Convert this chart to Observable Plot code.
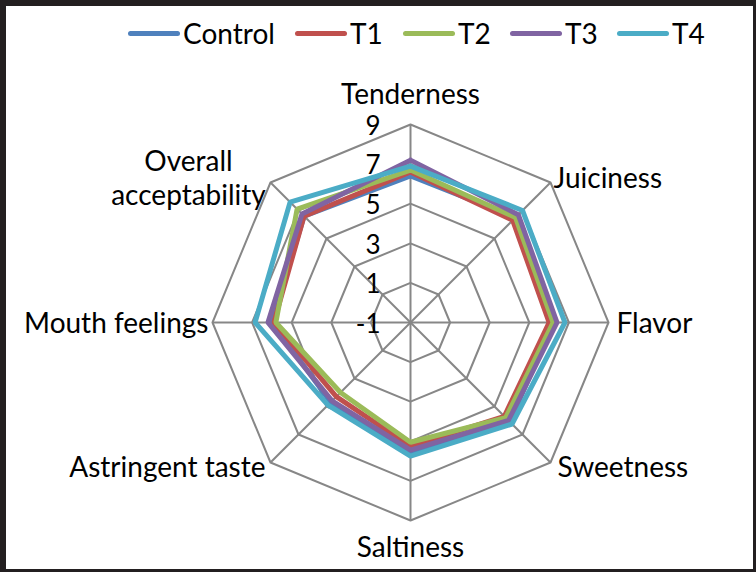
<!DOCTYPE html>
<html>
<head>
<meta charset="utf-8">
<script src="https://cdn.jsdelivr.net/npm/d3@7"></script>
<script src="https://cdn.jsdelivr.net/npm/@observablehq/plot@0.6"></script>
<style>
  html, body { margin: 0; padding: 0; background: #fff; }
  #frame {
    position: relative; width: 756px; height: 572px; box-sizing: border-box;
    border-style: solid; border-color: #231f20;
    border-width: 6px 3px 3px 6px; background: #fff; overflow: hidden;
    font-family: Lato, "Open Sans", sans-serif; color: #000;
  }
  #legend { position: absolute; left: 0; top: 0; width: 100%; height: 56px; }
  .item { position: absolute; top: 10px; display: flex; align-items: center; font-size: 28px; line-height: 34px; }
  .sw { width: 52px; height: 5px; border-radius: 3px; margin-right: 3px; }
  #chart { position: absolute; left: 0; top: 0; }
</style>
</head>
<body>
<div id="frame">
  <div id="chart"></div>
  <div id="legend"></div>
</div>
<script>
// ---- data ----
const categories = ["Tenderness", "Juiciness", "Flavor", "Sweetness", "Saltiness", "Astringent taste", "Mouth feelings", "Overall\nacceptability"];
const series = ["Control", "T1", "T2", "T3", "T4"];
const control = [6.4, 6.5, 6.2, 6.1, 5.6, 4.7, 6.0, 6.6];
const t1 =      [6.6, 6.3, 6.0, 5.7, 5.25, 4.3, 5.9, 6.6];
const t2 =      [6.7, 6.5, 6.2, 5.8, 5.05, 4.0, 5.8, 7.1];
const t3 =      [7.2, 6.7, 6.4, 6.0, 5.45, 4.6, 6.2, 6.75];
const t4 =      [6.9, 7.0, 6.8, 6.25, 5.75, 4.9, 6.85, 7.6];
const tickValues = [-1, 1, 3, 5, 7, 9];
const colors = ["#4f81bd", "#c0504d", "#9bbb59", "#8064a2", "#4bacc6"];

// ---- geometry helpers ----
const vMin = -1, vMax = 9;
const rad = v => (v - vMin) / (vMax - vMin);
const ang = i => (i * 2 * Math.PI) / categories.length;
const px = (v, i) => rad(v) * Math.sin(ang(i));
const py = (v, i) => rad(v) * Math.cos(ang(i));

const valuesBySeries = [control, t1, t2, t3, t4];
const lineData = [];
series.forEach((s, k) => {
  const vals = valuesBySeries[k];
  for (let i = 0; i <= categories.length; i++) {
    const j = i % categories.length;
    lineData.push({series: s, x: px(vals[j], j), y: py(vals[j], j)});
  }
});

const ringData = [];
tickValues.filter(v => v > vMin).forEach(v => {
  for (let i = 0; i <= categories.length; i++) {
    const j = i % categories.length;
    ringData.push({ring: v, x: px(v, j), y: py(v, j)});
  }
});
const spokes = categories.map((c, i) => ({x1: 0, y1: 0, x2: px(vMax, i), y2: py(vMax, i)}));

// label layout (offsets in px from the outer vertex)
const labelLayout = [
  {dx: 0, dy: -31, anchor: "middle"},
  {dx: 3, dy: -5, anchor: "start"},
  {dx: 8, dy: 0, anchor: "start"},
  {dx: 7, dy: 4, anchor: "start"},
  {dx: 0, dy: 26, anchor: "middle"},
  {dx: -5, dy: 4, anchor: "end"},
  {dx: -4, dy: 0, anchor: "end"},
  {dx: -82, dy: -5, anchor: "middle"}
];
const labelData = categories.map((c, i) => ({label: c, x: px(vMax, i), y: py(vMax, i), ...labelLayout[i]}));

const gridColor = "#878787";
const fontSize = 28;

const marks = [
  Plot.line(ringData, {x: "x", y: "y", z: "ring", stroke: gridColor, strokeWidth: 2}),
  Plot.link(spokes, {x1: "x1", y1: "y1", x2: "x2", y2: "y2", stroke: gridColor, strokeWidth: 2}),
  Plot.line(lineData, {x: "x", y: "y", z: "series", stroke: "series", strokeWidth: 5, strokeLinejoin: "miter"}),
  Plot.text(tickValues, {x: 0, y: v => rad(v), text: d => String(d), dx: -30, dy: 2, textAnchor: "end", fontSize: 26, fill: "#000"})
];
labelData.forEach(d => {
  marks.push(Plot.text([d], {x: "x", y: "y", text: "label", dx: d.dx, dy: d.dy, textAnchor: d.anchor, fontSize: fontSize, lineHeight: 1.22, fill: "#000"}));
});

const cx = 404, cy = 316, R = 198;
const chart = Plot.plot({
  width: 747,
  height: 563,
  margin: 0,
  style: {fontFamily: "Lato, 'Open Sans', sans-serif", background: "transparent"},
  x: {domain: [-1, 1], range: [cx - R, cx + R], axis: null},
  y: {domain: [-1, 1], range: [cy + R, cy - R], axis: null},
  color: {domain: series, range: colors},
  marks
});
document.getElementById("chart").appendChild(chart);

// legend
const legendX = [122, 289, 397, 504, 611];
const legend = document.getElementById("legend");
series.forEach((s, k) => {
  const it = document.createElement("div");
  it.className = "item";
  it.style.left = legendX[k] + "px";
  const sw = document.createElement("div");
  sw.className = "sw";
  sw.style.background = colors[k];
  const tx = document.createElement("span");
  tx.textContent = s;
  it.appendChild(sw); it.appendChild(tx);
  legend.appendChild(it);
});
</script>
</body>
</html>
